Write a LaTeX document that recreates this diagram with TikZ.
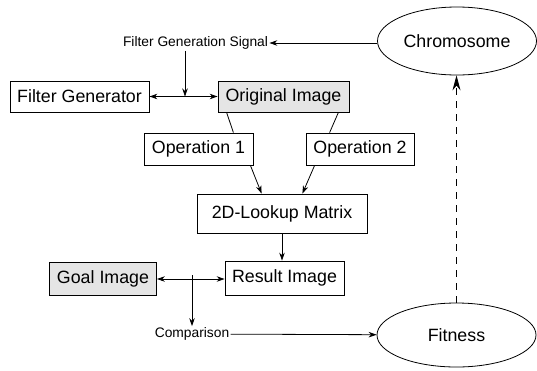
\documentclass[tikz,border=0pt]{standalone}
\usepackage{fontspec}
\setmainfont{Liberation Sans}
\usepackage{tikz}
\usetikzlibrary{arrows.meta}
\usetikzlibrary{shapes.geometric}

\begin{document}
\begin{tikzpicture}[x=1pt, y=-1pt, line width=0.8pt,
  every node/.style={font=\fontsize{17.8}{20}\selectfont},
  box/.style={draw, rectangle, inner sep=0pt, minimum height=31pt},
  grey/.style={box, fill=black!10},
  oval/.style={draw, ellipse, inner sep=0pt, minimum width=159pt},
  small/.style={font=\fontsize{13.8}{16}\selectfont, inner sep=1pt},
  arr/.style={-{Stealth[length=8pt,width=5.5pt]}},
  darr/.style={{Stealth[length=8pt,width=5.5pt]}-{Stealth[length=8pt,width=5.5pt]}}]
  \useasboundingbox (0,0) rectangle (537,370);

  % top row
  \node[oval, minimum height=68pt] (chrom) at (457,41) {Chromosome};
  \node[small] (sig) at (195.5,43) {Filter Generation Signal};
  \node[box, minimum width=139pt] (fgen) at (79.5,96.5) {Filter Generator};
  \node[grey, minimum width=131pt] (orig) at (283.5,96.5) {Original Image};
  \coordinate (sigmid) at (185,96.5);

  % operations and lookup
  \node[box, minimum width=109pt, minimum height=32pt] (op1) at (198.5,149) {Operation 1};
  \node[box, minimum width=108pt, minimum height=32pt] (op2) at (360,149) {Operation 2};
  \node[box, minimum width=170pt, minimum height=39pt] (lookup) at (282,213.5) {2D-Lookup Matrix};

  % bottom row
  \node[grey, minimum width=107pt, minimum height=33pt] (goal) at (103,279) {Goal Image};
  \node[box, minimum width=119pt, minimum height=34pt] (result) at (284.5,278) {Result Image};
  \coordinate (cmpmid) at (192,279);
  \node[small] (cmp) at (192,334) {Comparison};
  \node[oval, minimum height=64pt] (fit) at (456.5,335) {Fitness};

  % connectors
  \draw[arr] (chrom.west |- sig.east) -- (sig.east);
  \draw[darr] (fgen) -- (orig);
  \draw[arr] (sig.south -| sigmid) -- (sigmid);
  \draw ([xshift=9pt]orig.south west) -- ([xshift=-20pt]op1.north east);
  \draw ([xshift=-11pt]orig.south east) -- ([xshift=24pt]op2.north west);
  \draw[arr] ([xshift=-3pt]op1.south east) -- ([xshift=65pt]lookup.north west);
  \draw[arr] ([xshift=9pt]op2.south west) -- ([xshift=-65pt]lookup.north east);
  \draw[arr] (lookup.south) -- (lookup.south |- result.north);
  \draw[darr] (goal.east |- cmpmid) -- (result.west |- cmpmid);
  \draw[arr] ([yshift=4pt]cmpmid) -- (cmp.north);
  \draw[arr] (cmp) -- (fit);
  \draw[-{Stealth[length=15pt,width=8pt]}, dash pattern=on 7pt off 6pt] (fit.north) -- (fit.north |- chrom.south);
\end{tikzpicture}
\end{document}
